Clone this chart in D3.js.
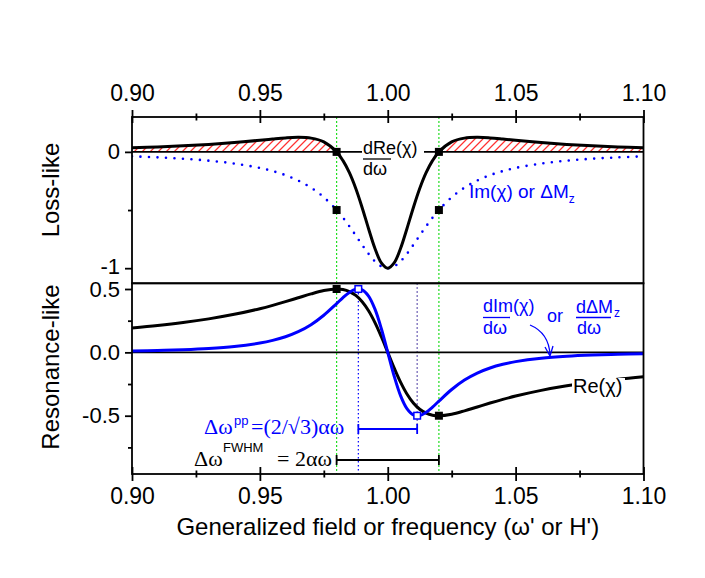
<!DOCTYPE html>
<html><head><meta charset="utf-8">
<script src="https://cdn.jsdelivr.net/npm/d3@7"></script>
<style>body{margin:0;background:#fff}svg{display:block}.serif{font-family:"Liberation Serif","Times New Roman","DejaVu Serif",serif}</style>
</head><body><svg id="c" width="705" height="578" font-family="Arial, 'Liberation Sans', sans-serif"></svg>
<script>
// ---------- data ----------
const omega = [0.90,0.91,0.92,0.93,0.94,0.95,0.955,0.96,0.965,0.97,0.975,0.98,0.9825,0.985,0.9875,0.99,0.9925,0.995,0.9975,1.00,
               1.0025,1.005,1.0075,1.01,1.0125,1.015,1.0175,1.02,1.025,1.03,1.035,1.04,1.045,1.05,1.06,1.07,1.08,1.09,1.10];
// top panel: dRe(chi)/dw (black) and Im(chi) (blue dotted)
const dReChi = [0.0355,0.0426,0.0519,0.0641,0.0800,0.0999,0.1105,0.1200,0.1250,0.1183,0.0857,0,-0.0752,-0.1792,-0.3151,-0.4800,-0.6605,-0.8305,-0.9543,-1.0,
                -0.9543,-0.8305,-0.6605,-0.4800,-0.3151,-0.1792,-0.0752,0,0.0857,0.1183,0.1250,0.1200,0.1105,0.0999,0.0800,0.0641,0.0519,0.0426,0.0355];
const imChi = [-0.0385,-0.0471,-0.0588,-0.0755,-0.1000,-0.1379,-0.1649,-0.2000,-0.2462,-0.3077,-0.3902,-0.5000,-0.5664,-0.6400,-0.7191,-0.8000,-0.8767,-0.9412,-0.9846,-1.0,
               -0.9846,-0.9412,-0.8767,-0.8000,-0.7191,-0.6400,-0.5664,-0.5000,-0.3902,-0.3077,-0.2462,-0.2000,-0.1649,-0.1379,-0.1000,-0.0755,-0.0588,-0.0471,-0.0385];
// bottom panel: Re(chi) (black) and dIm(chi)/dw (blue)
const reChi = [0.1923,0.2118,0.2353,0.2642,0.3000,0.3448,0.3711,0.4000,0.4308,0.4615,0.4878,0.5000,0.4956,0.4800,0.4494,0.4000,0.3288,0.2353,0.1231,0,
               -0.1231,-0.2353,-0.3288,-0.4000,-0.4494,-0.4800,-0.4956,-0.5000,-0.4878,-0.4615,-0.4308,-0.4000,-0.3711,-0.3448,-0.3000,-0.2642,-0.2353,-0.2118,-0.1923];
const dImChi = [0.0114,0.0153,0.0213,0.0307,0.0462,0.0732,0.0943,0.1232,0.1633,0.2186,0.2931,0.3849,0.4321,0.4730,0.4976,0.4927,0.4438,0.3410,0.1866,0,
                -0.1866,-0.3410,-0.4438,-0.4927,-0.4976,-0.4730,-0.4321,-0.3849,-0.2931,-0.2186,-0.1633,-0.1232,-0.0943,-0.0732,-0.0462,-0.0307,-0.0213,-0.0153,-0.0114];
const fwhmX = [0.98, 1.02];
const topSquares = [[0.98,0],[1.02,0],[0.98,-0.5],[1.02,-0.5]];
const botSquares = [[0.98,0.5],[1.02,-0.5]];
const ppSquares = [[0.9885,0.5],[1.0115,-0.5]];
const xTicks = [0.90,0.95,1.00,1.05,1.10];
const xMinor = [0.925,0.975,1.025,1.075];
const yTopTicks = [0,-1], yTopMinor = [-0.5];
const yBotTicks = [0.5,0.0,-0.5], yBotMinor = [0.25,-0.25,-0.75];

// ---------- layout ----------
const L=132, R=643.5, T1=117, B1=283.3, B2=474;
const SANS = "Arial, 'Liberation Sans', sans-serif";
const svg = d3.select("#c");
const x = d3.scaleLinear().domain([0.9,1.1]).range([L,R]);
const yT = d3.scaleLinear().domain([-1.13,0.30]).range([B1,T1]);
const yB = d3.scaleLinear().domain([-0.96,0.545]).range([B2,B1]);
const blue = "#0000ff", green = "#22dd22", red = "#ff3030";

const pts = (ys) => omega.map((w,i)=>({x:w,v:ys[i]}));
const curve = d3.curveCatmullRom.alpha(0.5);

const defs = svg.append("defs");
defs.append("clipPath").attr("id","cpT").append("rect").attr("x",L).attr("y",T1).attr("width",R-L).attr("height",B1-T1);
defs.append("clipPath").attr("id","cpB").append("rect").attr("x",L).attr("y",B1).attr("width",R-L).attr("height",B2-B1);
// clip region = positive part of dRe/dw (area between curve and zero)
defs.append("clipPath").attr("id","cpHatch").append("path").datum(pts(dReChi))
  .attr("d", d3.area().defined(d=>d.v>=0).x(d=>x(d.x)).y0(yT(0)).y1(d=>yT(d.v)).curve(curve));

// vertical guide lines
const gV = svg.append("g");
fwhmX.forEach(w => gV.append("line").attr("x1",x(w)).attr("x2",x(w)).attr("y1",T1).attr("y2",B2)
  .attr("stroke",green).attr("stroke-width",1.2).attr("stroke-dasharray","2,2"));
gV.append("line").attr("x1",x(ppSquares[0][0])).attr("x2",x(ppSquares[0][0])).attr("y1",yB(ppSquares[0][1])).attr("y2",B2)
  .attr("stroke",blue).attr("stroke-width",1.2).attr("stroke-dasharray","1.5,2.5");
gV.append("line").attr("x1",x(ppSquares[1][0])).attr("x2",x(ppSquares[1][0])).attr("y1",B1).attr("y2",429)
  .attr("stroke","#3a2a9a").attr("stroke-width",1.2).attr("stroke-dasharray","1.5,2.5");

// hatching (red diagonal lines clipped to the positive lobes)
const gH = svg.append("g").attr("clip-path","url(#cpHatch)");
const hy = yT(0);
for (let sx = L - 40; sx < R + 40; sx += 8) {
  gH.append("line").attr("x1",sx).attr("y1",hy+2).attr("x2",sx+24).attr("y2",hy-22)
    .attr("stroke",red).attr("stroke-width",1.3);
}

// zero lines
svg.append("line").attr("x1",L).attr("x2",R).attr("y1",yT(0)).attr("y2",yT(0)).attr("stroke","#000").attr("stroke-width",1.6);
svg.append("line").attr("x1",L).attr("x2",R).attr("y1",yB(0)).attr("y2",yB(0)).attr("stroke","#000").attr("stroke-width",1.6);

// top panel
const gT = svg.append("g").attr("clip-path","url(#cpT)");
gT.append("path").datum(pts(imChi)).attr("fill","none").attr("stroke",blue).attr("stroke-width",2.6)
  .attr("stroke-linecap","round").attr("stroke-dasharray","0,8.5")
  .attr("d", d3.line().x(d=>x(d.x)).y(d=>yT(d.v)).curve(curve));
gT.append("path").datum(pts(dReChi)).attr("fill","none").attr("stroke","#000").attr("stroke-width",3)
  .attr("d", d3.line().x(d=>x(d.x)).y(d=>yT(d.v)).curve(curve));

// bottom panel
const gB = svg.append("g").attr("clip-path","url(#cpB)");
gB.append("path").datum(pts(reChi)).attr("fill","none").attr("stroke","#000").attr("stroke-width",3)
  .attr("d", d3.line().x(d=>x(d.x)).y(d=>yB(d.v)).curve(curve));
gB.append("path").datum(pts(dImChi)).attr("fill","none").attr("stroke",blue).attr("stroke-width",3)
  .attr("d", d3.line().x(d=>x(d.x)).y(d=>yB(d.v)).curve(curve));

// squares
const sq = 8;
svg.append("g").selectAll("rect").data(topSquares).join("rect")
  .attr("x",d=>x(d[0])-sq/2).attr("y",d=>yT(d[1])-sq/2).attr("width",sq).attr("height",sq).attr("fill","#000");
svg.append("g").selectAll("rect").data(botSquares).join("rect")
  .attr("x",d=>x(d[0])-sq/2).attr("y",d=>yB(d[1])-sq/2).attr("width",sq).attr("height",sq).attr("fill","#000");
svg.append("g").selectAll("rect").data(ppSquares).join("rect")
  .attr("x",d=>x(d[0])-3.3).attr("y",d=>yB(d[1])-3.3).attr("width",6.6).attr("height",6.6)
  .attr("fill","#fff").attr("stroke",blue).attr("stroke-width",1.5);

// frames
svg.append("rect").attr("x",L).attr("y",T1).attr("width",R-L).attr("height",B1-T1).attr("fill","none").attr("stroke","#000").attr("stroke-width",1.8);
svg.append("rect").attr("x",L).attr("y",B1).attr("width",R-L).attr("height",B2-B1).attr("fill","none").attr("stroke","#000").attr("stroke-width",1.8);

// axes
function styleAxis(g, fs){ g.attr("font-family",SANS).attr("font-size",fs||23); g.select(".domain").remove();
  g.selectAll("text").attr("fill","#000"); g.selectAll("line").attr("stroke","#000").attr("stroke-width",1.8); }
const fmt2 = d3.format(".2f");
const axTop = svg.append("g").attr("transform",`translate(0,${T1})`)
  .call(d3.axisTop(x).tickValues(xTicks).tickFormat(fmt2).tickSize(7).tickPadding(9));
styleAxis(axTop); axTop.selectAll(".tick line").attr("y1",6).attr("y2",-7);
const axTopMin = svg.append("g").attr("transform",`translate(0,${T1})`)
  .call(d3.axisTop(x).tickValues(xMinor).tickFormat("").tickSize(4));
styleAxis(axTopMin); axTopMin.selectAll(".tick line").attr("y1",3.5).attr("y2",-3.5);

const axBot = svg.append("g").attr("transform",`translate(0,${B2})`)
  .call(d3.axisBottom(x).tickValues(xTicks).tickFormat(fmt2).tickSize(7).tickPadding(7));
styleAxis(axBot); axBot.selectAll(".tick line").attr("y1",-7).attr("y2",7);
const axBotMin = svg.append("g").attr("transform",`translate(0,${B2})`)
  .call(d3.axisBottom(x).tickValues(xMinor).tickFormat("").tickSize(4));
styleAxis(axBotMin); axBotMin.selectAll(".tick line").attr("y1",-3.5).attr("y2",3.5);

const axLT = svg.append("g").attr("transform",`translate(${L},0)`)
  .call(d3.axisLeft(yT).tickValues(yTopTicks).tickFormat(d=>String(d)).tickSize(7).tickPadding(5));
styleAxis(axLT, 22);
axLT.selectAll(".tick text").filter(d=>d===-1).attr("dy","0.22em");
const axLTm = svg.append("g").attr("transform",`translate(${L},0)`)
  .call(d3.axisLeft(yT).tickValues(yTopMinor).tickFormat("").tickSize(4));
styleAxis(axLTm);
const axLB = svg.append("g").attr("transform",`translate(${L},0)`)
  .call(d3.axisLeft(yB).tickValues(yBotTicks).tickFormat(d=>d3.format(".1f")(d).replace("−","-")).tickSize(7).tickPadding(5));
styleAxis(axLB, 22);
const axLBm = svg.append("g").attr("transform",`translate(${L},0)`)
  .call(d3.axisLeft(yB).tickValues(yBotMinor).tickFormat("").tickSize(4));
styleAxis(axLBm);

// axis titles
svg.append("text").attr("x",(L+R)/2).attr("y",535).attr("text-anchor","middle").attr("font-size",24)
  .text("Generalized field or frequency (ω' or H')");
svg.append("text").attr("transform","translate(59,190) rotate(-90)").attr("text-anchor","middle").attr("font-size",24).text("Loss-like");
svg.append("text").attr("transform","translate(59,367) rotate(-90)").attr("text-anchor","middle").attr("font-size",24).text("Resonance-like");

// annotations – top panel
svg.append("rect").attr("x",362).attr("y",141).attr("width",62).attr("height",16).attr("fill","#fff");
svg.append("text").attr("x",363).attr("y",154).attr("font-size",18).text("dRe(χ)");
svg.append("line").attr("x1",363).attr("x2",391).attr("y1",159).attr("y2",159).attr("stroke","#000").attr("stroke-width",1.3);
svg.append("text").attr("x",363).attr("y",175).attr("font-size",18).text("dω");
const imt = svg.append("text").attr("x",469).attr("y",198).attr("font-size",19).attr("fill",blue);
imt.append("tspan").text("Im(χ) or ΔM");
imt.append("tspan").attr("font-size",12).attr("dy",5).text("z");

// annotations – bottom panel
svg.append("text").attr("x",483).attr("y",312).attr("font-size",18).attr("fill",blue).text("dIm(χ)");
svg.append("line").attr("x1",483).attr("x2",510).attr("y1",317.5).attr("y2",317.5).attr("stroke",blue).attr("stroke-width",1.3);
svg.append("text").attr("x",483).attr("y",334).attr("font-size",18).attr("fill",blue).text("dω");
svg.append("text").attr("x",547).attr("y",322).attr("font-size",18).attr("fill",blue).text("or");
svg.append("text").attr("x",576).attr("y",313).attr("font-size",18).attr("fill",blue).text("dΔM");
svg.append("text").attr("x",614).attr("y",317).attr("font-size",12).attr("fill",blue).text("z");
svg.append("line").attr("x1",576).attr("x2",611).attr("y1",317.5).attr("y2",317.5).attr("stroke",blue).attr("stroke-width",1.3);
svg.append("text").attr("x",577).attr("y",334).attr("font-size",18).attr("fill",blue).text("dω");
svg.append("path").attr("d","M530,325 Q549,333 550,355").attr("fill","none").attr("stroke",blue).attr("stroke-width",1.3);
svg.append("path").attr("d","M545,347 L550,356 L553,346").attr("fill","none").attr("stroke",blue).attr("stroke-width",1.3);

svg.append("rect").attr("x",572).attr("y",378).attr("width",53).attr("height",20).attr("fill","#fff");
svg.append("text").attr("x",573).attr("y",393).attr("font-size",20).text("Re(χ)");

// linewidth brackets
svg.append("text").attr("class","serif").attr("x",204).attr("y",434).attr("font-size",22).attr("fill",blue).text("Δω");
svg.append("text").attr("x",234).attr("y",425).attr("font-size",13).attr("fill",blue).text("pp");
svg.append("text").attr("class","serif").attr("x",251).attr("y",434).attr("font-size",22).attr("fill",blue).text("=(2/√3)αω");
const bx1 = x(ppSquares[0][0]), bx2 = x(ppSquares[1][0]);
svg.append("path").attr("d",`M${bx1},429 H${bx2} M${bx1},424 V434 M${bx2},424 V434`).attr("stroke",blue).attr("stroke-width",1.8).attr("fill","none");

svg.append("text").attr("class","serif").attr("x",194).attr("y",466).attr("font-size",22).text("Δω");
svg.append("text").attr("x",223).attr("y",452).attr("font-size",13).text("FWHM");
svg.append("text").attr("class","serif").attr("x",277).attr("y",466).attr("font-size",22).text("= 2αω");
const fx1 = x(fwhmX[0]), fx2 = x(fwhmX[1]);
svg.append("path").attr("d",`M${fx1},460 H${fx2} M${fx1},455 V465 M${fx2},455 V465`).attr("stroke","#000").attr("stroke-width",1.8).attr("fill","none");
</script></body></html>
